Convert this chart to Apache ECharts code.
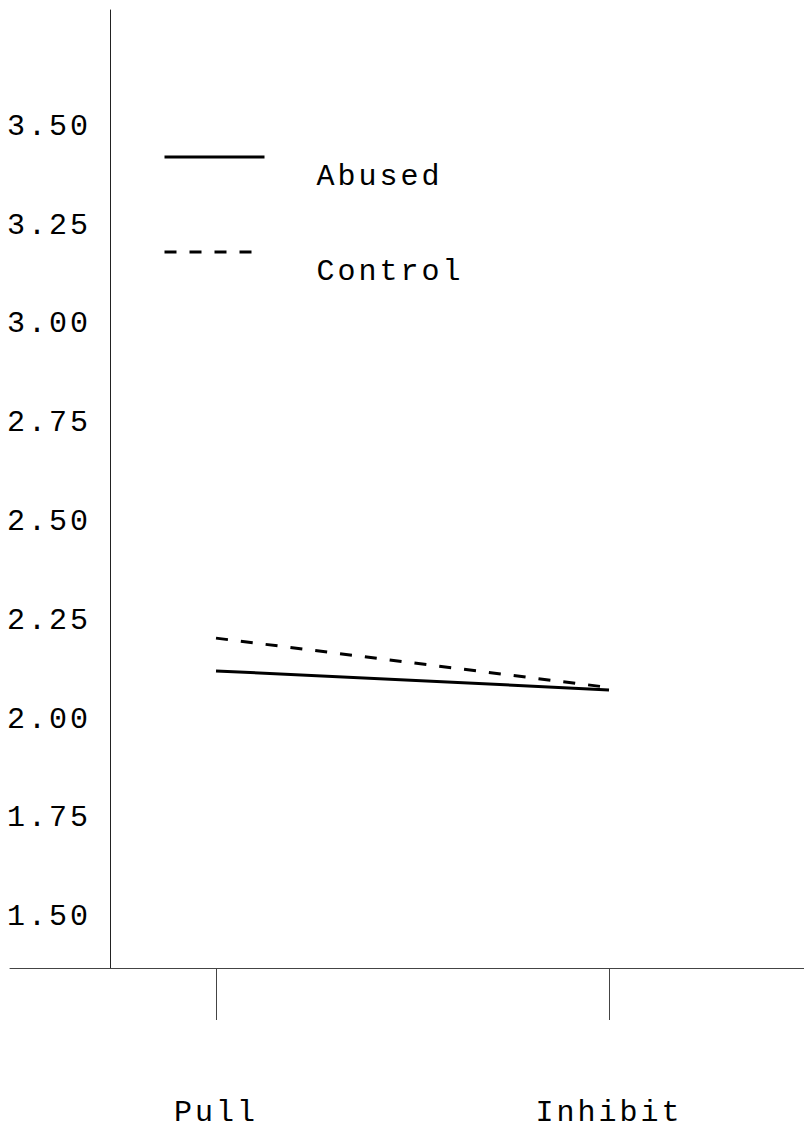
<!DOCTYPE html>
<html lang="en">
<head>
    <meta charset="UTF-8">
    <script src="https://cdn.jsdelivr.net/npm/echarts@6/dist/echarts.min.js"></script>
    <title>Abused vs Control</title>
    <style>
        body { margin: 0; background: #fff; }
        #main { width: 804px; height: 1130px; }
        #main text { letter-spacing: 3px; }
    </style>
</head>
<body>
<div id="main"></div>
<script type="text/javascript">
    var categories = ['Pull', 'Inhibit'];
    var abused = [2.123, 2.075];
    var control = [2.206, 2.081];
    var yTicks = [1.50, 1.75, 2.00, 2.25, 2.50, 2.75, 3.00, 3.25, 3.50];

    // categories sit at x = 1, 2 on a value axis so the x-axis can run past the y-axis
    function pairs(vals) {
        return vals.map(function (v, i) { return [i + 1, v]; });
    }

    var font = '"Liberation Mono", "Courier New", monospace';
    var myChart = echarts.init(document.getElementById('main'), null, {renderer: 'svg'});
    var option = {
        animation: false,
        grid: {left: 10, right: 0, top: 10, bottom: 162},
        legend: {
            orient: 'vertical',
            left: 163,
            top: 117,
            padding: 0,
            itemWidth: 100,
            itemHeight: 14,
            itemGap: 15,
            data: ['Abused', 'Control'],
            // blank first line pushes the name below its line sample
            formatter: '\n{name}',
            itemStyle: {opacity: 0},
            lineStyle: {width: 3},
            textStyle: {
                fontFamily: font,
                fontSize: 30,
                lineHeight: 40,
                color: '#000',
                padding: [0, 0, 0, 47]
            }
        },
        xAxis: {
            type: 'value',
            min: 0.4758,
            max: 2.4962,
            splitLine: {show: false},
            axisLine: {onZero: false, lineStyle: {color: '#444', width: 1}},
            axisTick: {show: true, customValues: [1, 2], length: 52, lineStyle: {color: '#444', width: 1}},
            axisLabel: {
                customValues: [1, 2],
                formatter: function (v) { return categories[Math.round(v) - 1]; },
                margin: 145,
                verticalAlign: 'middle',
                lineHeight: 26,
                fontFamily: font,
                fontSize: 30,
                color: '#000'
            }
        },
        yAxis: {
            type: 'value',
            min: 1.371,
            max: 3.796,
            offset: -100,
            splitLine: {show: false},
            axisLine: {show: true, lineStyle: {color: '#222', width: 1}},
            axisTick: {show: false},
            axisLabel: {
                customValues: yTicks,
                formatter: function (v) { return v.toFixed(2); },
                margin: 19,
                fontFamily: font,
                fontSize: 30,
                color: '#000'
            }
        },
        series: [
            {
                name: 'Abused',
                type: 'line',
                symbol: 'none',
                data: pairs(abused),
                itemStyle: {color: '#000'},
                lineStyle: {color: '#000', width: 3}
            },
            {
                name: 'Control',
                type: 'line',
                symbol: 'none',
                data: pairs(control),
                itemStyle: {color: '#000'},
                lineStyle: {color: '#000', width: 3, type: [12, 13]}
            }
        ]
    };
    myChart.setOption(option);
</script>
</body>
</html>
